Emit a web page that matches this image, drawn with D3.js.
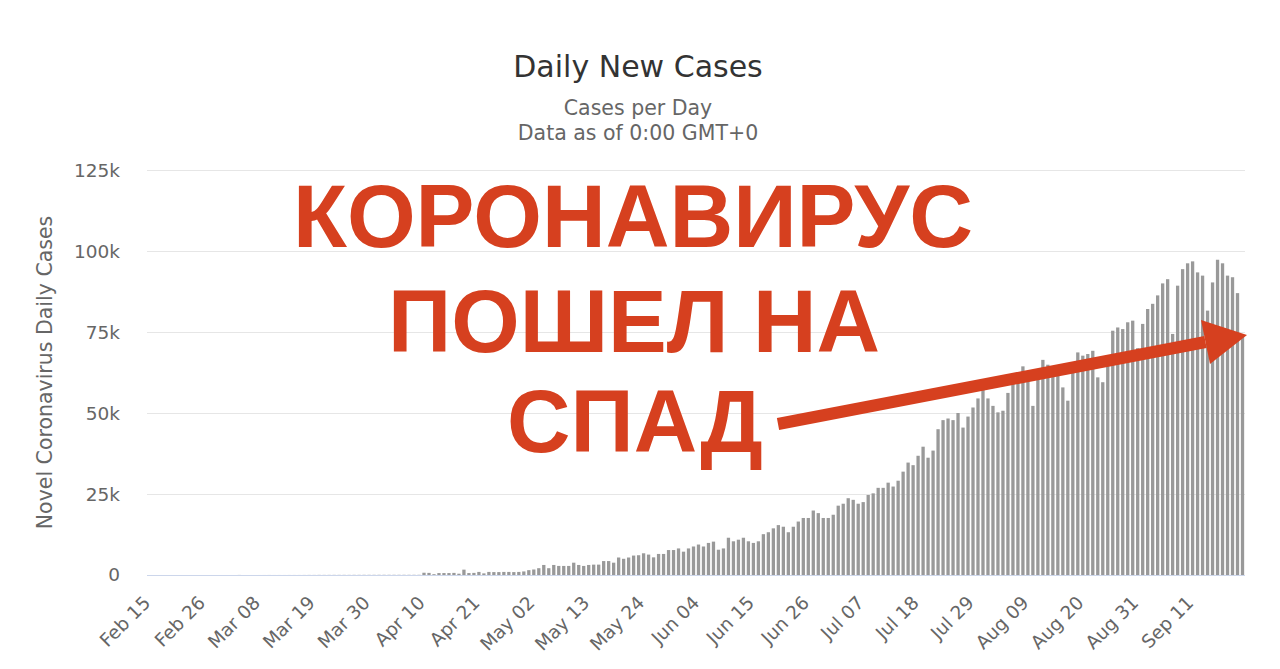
<!DOCTYPE html>
<html>
<head>
<meta charset="utf-8">
<script src="https://cdn.jsdelivr.net/npm/d3@7"></script>
<style>
  html, body { margin: 0; padding: 0; background: #ffffff; }
  svg { display: block; }
</style>
</head>
<body>
<svg id="chart" width="1280" height="669"></svg>
<script>
// ---------- DATA ----------
const startDay = "2020-02-15";
const endDay = "2020-09-21";

// Daily new cases, one value per day from Feb 15 to Sep 21
const febCases = [0,0,0,0,0,0,0,0,0,0,0,0,0,0,0];                       // Feb 15-29
const marCases = [0,2,1,22,2,1,3,5,9,15,8,10,7,12,12,12,18,28,27,40,35,40,45,45,45,40,50,50,55,55,55]; // Mar 1-31
const aprCases = [60,60,60,60,60,60,60,60,60,700,650,250,600,600,600,650,400,1650,600,650,
                  950,500,950,900,900,950,950,900,950,1100];              // Apr 1-30
const mayCases = [1500,1700,2100,3100,2100,3100,2800,2800,2800,3800,3100,2800,3100,3200,3200,4300,4300,3800,
                  5400,5000,5400,6000,6100,6700,6300,5450,6500,6500,7700,7700,8200];  // May 1-31
const junCases = [7200,8200,8800,9400,8800,9900,10300,7800,8200,11500,10400,10900,11500,10400,9900,10400,
                  12600,13200,14400,15400,14900,13200,14900,16500,17600,17600,19900,19100,17600,17600]; // Jun 1-30
const julCases = [18600,21400,22000,23700,23200,22000,22500,24700,25200,26900,26900,28500,27300,29100,31900,
                  34700,33900,36800,39600,36200,38400,45000,47800,48300,47800,50000,45500,48900,51700,54500,57200]; // Jul 1-31
const augCases = [54500,52200,50200,50700,56200,60000,61500,64400,62000,52200,60500,66400,64900,64100,61500,
                  57900,53800,65100,68700,67700,68200,69200,61000,59500,66500,75400,76400,75900,78000,78500,70000]; // Aug 1-31
const sepCases = [77500,82100,83700,86300,90000,91300,74400,89300,94400,96200,96800,93400,92400,81600,90300,
                  97300,96200,92400,91900,87000,74000];                   // Sep 1-21

const tickLabels = ["Feb 15","Feb 26","Mar 08","Mar 19","Mar 30","Apr 10","Apr 21","May 02","May 13","May 24",
                    "Jun 04","Jun 15","Jun 26","Jul 07","Jul 18","Jul 29","Aug 09","Aug 20","Aug 31","Sep 11"];
const yTicks = [0, 25000, 50000, 75000, 100000, 125000];
const yTickLabels = ["0","25k","50k","75k","100k","125k"];

const titleText = "Daily New Cases";
const subtitleLines = ["Cases per Day", "Data as of 0:00 GMT+0"];
const yAxisTitle = "Novel Coronavirus Daily Cases";
const overlayLines = ["КОРОНАВИРУС", "ПОШЕЛ НА", "СПАД"];

// ---------- BUILD ----------
const parse = d3.timeParse("%Y-%m-%d");
const categories = d3.timeDay.range(parse(startDay), d3.timeDay.offset(parse(endDay), 1));
const values = [].concat(febCases, marCases, aprCases, mayCases, junCases, julCases, augCases, sepCases);
const fmt = d3.timeFormat("%b %d");
const data = categories.map((d, i) => ({ date: d, label: fmt(d), value: values[i] }));

const svg = d3.select("#chart");
const plot = { left: 147, right: 1245, top: 170, bottom: 575 };

const x = d3.scaleBand()
  .domain(data.map(d => d.label))
  .range([plot.left, plot.right])
  .paddingInner(0.34)
  .paddingOuter(0.17);

const y = d3.scaleLinear().domain([0, 125000]).range([plot.bottom, plot.top]);

const font = "'DejaVu Sans', Verdana, sans-serif";

// Title / subtitle
svg.append("text")
  .attr("x", 638).attr("y", 77)
  .attr("text-anchor", "middle")
  .style("font-family", font).style("font-size", "30px").style("fill", "#333333")
  .text(titleText);

svg.selectAll("text.sub").data(subtitleLines).join("text")
  .attr("class", "sub")
  .attr("x", 638).attr("y", (d, i) => 115 + i * 25)
  .attr("text-anchor", "middle")
  .style("font-family", font).style("font-size", "20.5px").style("fill", "#666666")
  .text(d => d);

// Y axis with gridlines
const yAxis = d3.axisLeft(y)
  .tickValues(yTicks.slice(1))
  .tickSize(-(plot.right - plot.left))
  .tickFormat(d => yTickLabels[yTicks.indexOf(d)]);

const gy = svg.append("g").attr("transform", `translate(${plot.left},0)`).call(yAxis);
gy.select(".domain").remove();
gy.selectAll(".tick line").attr("stroke", "#e6e6e6").attr("stroke-width", 1);
gy.selectAll(".tick text")
  .attr("x", 120 - plot.left).attr("dy", "0.33em")
  .style("font-family", font).style("font-size", "18.5px").style("fill", "#666666");

// zero label
svg.append("text")
  .attr("x", 120).attr("y", y(0)).attr("dy", "0.33em")
  .attr("text-anchor", "end")
  .style("font-family", font).style("font-size", "18.5px").style("fill", "#666666")
  .text(yTickLabels[0]);

// Y axis title
svg.append("text")
  .attr("transform", `translate(52,372.5) rotate(-90)`)
  .attr("text-anchor", "middle")
  .style("font-family", font).style("font-size", "20.5px").style("fill", "#666666")
  .text(yAxisTitle);

// Bars
svg.append("g").selectAll("rect").data(data).join("rect")
  .attr("x", d => x(d.label))
  .attr("width", x.bandwidth())
  .attr("y", d => y(d.value))
  .attr("height", d => y(0) - y(d.value))
  .attr("fill", "#999999");

// X axis
const xAxis = d3.axisBottom(x)
  .tickValues(tickLabels)
  .tickSize(0)
  .tickPadding(0);
const gx = svg.append("g").attr("transform", `translate(0,${plot.bottom})`).call(xAxis);
gx.select(".domain").attr("stroke", "#ccd6eb").attr("d", `M${plot.left},0.5H${plot.right}`);
gx.selectAll(".tick text")
  .attr("text-anchor", "end")
  .attr("transform", "translate(2,29) rotate(-45)")
  .attr("y", 0).attr("dy", 0)
  .style("font-family", font).style("font-size", "18.5px").style("fill", "#666666");

// ---------- OVERLAY (meme annotation) ----------
const red = "#d6401f";
const overlay = [
  { cx: 633, base: 246.5, width: 680 },
  { cx: 634, base: 352, width: 492 },
  { cx: 635, base: 452, width: 256 }
];
svg.selectAll("text.ov").data(overlayLines).join("text")
  .attr("class", "ov")
  .attr("x", (d, i) => overlay[i].cx - overlay[i].width / 2)
  .attr("y", (d, i) => overlay[i].base)
  .attr("textLength", (d, i) => overlay[i].width)
  .attr("lengthAdjust", "spacingAndGlyphs")
  .style("font-family", "'Liberation Sans', Arial, sans-serif")
  .style("font-weight", "bold")
  .style("font-size", "89px")
  .style("fill", red)
  .text(d => d);

// Arrow
const arrowStart = [778, 424];
const arrowTip = [1247, 335];
const headBackA = [1201, 320];
const headBackB = [1210, 364];
const headMid = [(headBackA[0] + headBackB[0]) / 2, (headBackA[1] + headBackB[1]) / 2];
svg.append("line")
  .attr("x1", arrowStart[0]).attr("y1", arrowStart[1])
  .attr("x2", headMid[0]).attr("y2", headMid[1])
  .attr("stroke", red).attr("stroke-width", 12);
svg.append("path")
  .attr("d", d3.line()([arrowTip, headBackA, headBackB]) + "Z")
  .attr("fill", red);
</script>
</body>
</html>
